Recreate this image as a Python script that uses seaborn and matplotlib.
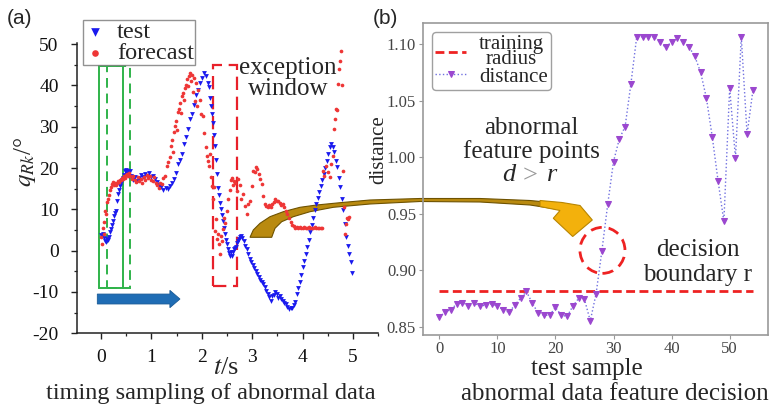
import matplotlib
matplotlib.use("Agg")
import matplotlib.pyplot as plt
import seaborn as sns
from matplotlib.patches import Polygon, Rectangle, Ellipse, FancyArrow
from matplotlib.ticker import MultipleLocator

# ---------------- (a) timing sampling: test vs forecast ----------------
t_test = [0.00, 0.02, 0.04, 0.06, 0.08, 0.10, 0.12, 0.14, 0.16, 0.18, 0.20, 0.22, 0.24, 0.26, 0.28,
          0.30, 0.32, 0.34, 0.36, 0.38, 0.40, 0.42, 0.44, 0.46, 0.48, 0.50, 0.52, 0.54, 0.56, 0.58,
          0.60, 0.64, 0.68, 0.72, 0.76, 0.80, 0.84, 0.88, 0.92, 0.96, 1.00, 1.04, 1.08, 1.12, 1.16,
          1.20, 1.24, 1.28, 1.32, 1.36, 1.40, 1.44, 1.48, 1.52, 1.56, 1.60, 1.64, 1.68, 1.72, 1.76,
          1.80, 1.84, 1.88, 1.92, 1.96, 2.00, 2.04, 2.08, 2.12, 2.14, 2.16, 2.18, 2.20, 2.22, 2.24,
          2.26, 2.28, 2.30, 2.32, 2.34, 2.36, 2.38, 2.40, 2.42, 2.44, 2.46, 2.48, 2.50, 2.52, 2.54,
          2.56, 2.58, 2.60, 2.62, 2.64, 2.66, 2.68, 2.70, 2.72, 2.74, 2.76, 2.78, 2.80, 2.83, 2.86,
          2.89, 2.92, 2.95, 2.98, 3.01, 3.04, 3.07, 3.10, 3.13, 3.16, 3.19, 3.22, 3.25, 3.28, 3.31,
          3.34, 3.37, 3.40, 3.43, 3.46, 3.49, 3.52, 3.55, 3.58, 3.61, 3.64, 3.67, 3.70, 3.73, 3.76,
          3.79, 3.82, 3.85, 3.88, 3.91, 3.94, 3.97, 4.00, 4.03, 4.06, 4.09, 4.12, 4.15, 4.18, 4.21,
          4.24, 4.27, 4.30, 4.33, 4.36, 4.39, 4.42, 4.45, 4.48, 4.51, 4.54, 4.57, 4.60, 4.63, 4.66,
          4.69, 4.72, 4.75, 4.78, 4.81, 4.84, 4.87, 4.90, 4.93, 4.96, 4.99]
q_test = [3.8, 3.5, 4.0, 3.0, 2.4, 2.2, 2.8, 2.5, 3.3, 4.5, 5.2, 6.1, 7.3, 8.3, 9.2,
          9.7, 12.0, 13.7, 14.8, 15.6, 16.3, 17.0, 17.6, 18.4, 19.2, 19.5, 18.8, 19.3, 18.2, 19.4,
          18.0, 17.2, 17.8, 16.9, 17.5, 18.3, 17.8, 18.6, 18.0, 18.7, 17.9, 18.2, 17.4, 16.6, 16.0,
          15.4, 14.6, 15.2, 14.9, 15.7, 16.4, 17.3, 18.8, 21.0, 22.0, 23.5, 25.8, 27.6, 29.5, 31.8,
          33.0, 35.2, 37.6, 38.9, 40.6, 41.8, 42.9, 42.2, 40.5, 39.6, 37.0, 35.0, 33.2, 30.8, 28.0,
          25.4, 22.0, 18.5, 15.2, 13.6, 11.5, 10.2, 8.7, 7.2, 5.6, 4.1, 2.6, 1.5, 0.4, -0.6,
          -1.2, -0.4, -1.4, -0.2, 0.3, 0.6, 0.9, 1.8, 2.4, 2.9, 3.3, 3.5, 3.0, 2.4, 1.2,
          0.3, -0.8, -1.9, -2.8, -3.4, -4.2, -5.0, -5.7, -6.4, -7.0, -7.6, -8.1, -8.8, -9.7, -10.5,
          -11.2, -12.3, -11.0, -10.8, -10.1, -10.5, -11.5, -10.9, -11.8, -12.2, -12.6, -13.0, -13.6, -14.1, -13.8,
          -13.9, -13.1, -12.4, -10.6, -9.0, -7.6, -5.8, -4.0, -2.6, -0.8, 1.0, 2.6, 4.6, 6.2, 8.0,
          9.8, 11.2, 12.8, 14.2, 15.6, 17.0, 18.6, 20.0, 21.8, 23.4, 25.0, 25.8, 25.2, 24.0, 21.8,
          20.2, 17.5, 15.4, 12.6, 9.8, 6.5, 3.4, 1.2, -0.9, -2.8, -5.4]

t_fore = [0.00, 0.02, 0.03, 0.05, 0.06, 0.08, 0.10, 0.11, 0.13, 0.15, 0.17, 0.19, 0.21, 0.23, 0.25,
          0.27, 0.29, 0.31, 0.33, 0.35, 0.37, 0.39, 0.41, 0.43, 0.45, 0.47, 0.49, 0.51, 0.53, 0.55,
          0.58, 0.61, 0.64, 0.67, 0.70, 0.73, 0.76, 0.79, 0.82, 0.85, 0.88, 0.91, 0.94, 0.97, 1.00,
          1.03, 1.06, 1.09, 1.12, 1.15, 1.18, 1.21, 1.24, 1.27, 1.30, 1.33, 1.36, 1.38, 1.40, 1.42,
          1.44, 1.46, 1.48, 1.50, 1.52, 1.54, 1.56, 1.58, 1.60, 1.62, 1.64, 1.66, 1.68, 1.70, 1.72,
          1.74, 1.76, 1.78, 1.80, 1.82, 1.84, 1.86, 1.88, 1.90, 1.93, 1.96, 1.99, 2.02, 2.05, 2.08,
          2.10, 2.12, 2.14, 2.16, 2.18, 2.20, 2.22, 2.24, 2.26, 2.28, 2.30, 2.32, 2.34, 2.36, 2.38,
          2.40, 2.42, 2.45, 2.47, 2.50, 2.52, 2.55, 2.57, 2.59, 2.61, 2.63, 2.66, 2.69, 2.72, 2.75,
          2.78, 2.82, 2.85, 2.89, 2.92, 2.96, 2.99, 3.02, 3.05, 3.08, 3.10, 3.13, 3.16, 3.19, 3.22,
          3.25, 3.28, 3.31, 3.34, 3.37, 3.40, 3.43, 3.46, 3.49, 3.52, 3.55, 3.58, 3.61, 3.64, 3.67,
          3.70, 3.73, 3.76, 3.79, 3.82, 3.85, 3.88, 3.91, 3.94, 3.97, 4.00, 4.03, 4.06, 4.09, 4.12,
          4.15, 4.18, 4.21, 4.24, 4.27, 4.30, 4.33, 4.36, 4.39, 4.40, 4.42, 4.46, 4.50, 4.54, 4.57,
          4.60, 4.62, 4.64, 4.66, 4.68, 4.70, 4.72, 4.74, 4.76, 4.78, 4.80, 4.82, 4.84, 4.86, 4.88,
          4.90, 4.92]
q_fore = [3.2, 1.5, 5.5, 6.9, 4.0, 9.5, 9.0, 11.8, 12.4, 13.5, 14.6, 15.4, 16.2, 16.7, 16.0,
          16.5, 15.8, 16.4, 16.9, 16.6, 17.2, 17.0, 17.6, 17.3, 18.0, 17.5, 18.3, 18.6, 18.1, 18.9,
          18.0, 17.4, 18.2, 17.0, 16.6, 17.8, 16.8, 17.4, 16.5, 17.9, 17.2, 18.4, 17.6, 18.0, 17.2,
          16.8, 17.9, 16.4, 15.9, 15.2, 16.4, 16.1, 17.6, 18.2, 20.6, 21.4, 22.8, 25.4, 26.8, 24.0,
          28.8, 30.3, 31.5, 29.2, 33.6, 34.3, 35.8, 33.4, 37.5, 38.2, 36.6, 39.4, 40.2, 41.6, 39.8,
          42.4, 43.0, 41.2, 42.6, 38.4, 41.8, 36.2, 40.6, 35.0, 38.8, 36.4, 33.2, 32.7, 28.6, 25.2,
          23.0, 21.6, 20.4, 23.4, 17.8, 15.7, 12.6, 15.3, 4.8, 7.6, 2.9, 4.0, 1.6, -0.8, 3.6,
          2.4, 5.2, 8.0, 6.8, 9.6, 12.4, 14.8, 17.2, 17.7, 15.9, 16.8, 16.5, 14.5, 17.4, 15.8,
          12.6, 13.7, 10.8, 8.9, 11.4, 12.1, 15.6, 19.4, 19.0, 20.2, 19.8, 18.6, 17.4, 16.1, 13.2,
          11.3, 10.8, 10.5, 11.0, 10.6, 11.3, 11.8, 12.4, 12.0, 12.1, 11.6, 11.0, 11.3, 10.6, 9.7,
          8.8, 7.8, 7.0, 6.2, 5.9, 5.6, 5.8, 5.5, 5.7, 5.6, 5.5, 5.7, 5.6, 5.5, 5.7,
          5.6, 5.5, 5.6, 5.7, 5.5, 5.6, 5.5, 5.6, 5.5, 19.4, 18.0, 20.6, 19.0, 17.8, 21.0,
          23.0, 29.5, 31.9, 34.3, 34.0, 40.3, 44.0, 46.0, 48.4, 40.0, 19.2, 10.5, 4.0, 6.5, 8.0,
          7.7, 8.2]

# ---------------- (b) feature decision: distance vs training radius ----------------
sample_idx = list(range(55))
distance = [0.858, 0.863, 0.865, 0.870, 0.871, 0.868, 0.871, 0.868, 0.869, 0.870,
            0.868, 0.865, 0.8625, 0.869, 0.875, 0.881, 0.871, 0.862, 0.860, 0.860,
            0.867, 0.860, 0.859, 0.868, 0.875, 0.874, 0.855, 0.879, 0.917, 0.958,
            0.996, 1.016, 1.027, 1.065, 1.1065, 1.1065, 1.1065, 1.1065, 1.1015, 1.097,
            1.102, 1.105, 1.102, 1.0975, 1.089, 1.075, 1.052, 1.018, 0.979, 0.943,
            1.061, 0.999, 1.1065, 1.020, 1.059]
training_radius = 0.881

left_xticks = [0, 1, 2, 3, 4, 5]
left_yticks = [-20, -10, 0, 10, 20, 30, 40, 50]
right_xticks = [0, 10, 20, 30, 40, 50]
right_yticks = [0.85, 0.90, 0.95, 1.00, 1.05, 1.10]

SERIF = 'Liberation Serif'
sns.set_style("ticks")
plt.rcParams['font.family'] = [SERIF, 'DejaVu Sans']
plt.rcParams['font.serif'] = [SERIF]
plt.rcParams['mathtext.fontset'] = 'stix'
plt.rcParams['axes.unicode_minus'] = False

W, H = 774, 408
fig = plt.figure(figsize=(W / 100, H / 100), dpi=100)
fig.patch.set_facecolor('white')


def fx(px):
    return px / W


def fy(py):
    return 1 - py / H


def P(px, py):
    return (fx(px), fy(py))


ax1 = fig.add_axes([fx(76.7), fy(333.3), (378.3 - 76.7) / W, (333.3 - 42.5) / H])
ax2 = fig.add_axes([fx(423), fy(335), 345 / W, 312 / H])
for a in (ax1, ax2):
    a.set_facecolor('none')

# ---- panel (a) ----
BLUE = '#1a1aee'
RED = '#ee3636'
sns.scatterplot(x=t_test, y=q_test, ax=ax1, marker='v', color=BLUE, s=12,
                linewidth=0, label='test', zorder=4)
sns.scatterplot(x=t_fore, y=q_fore, ax=ax1, marker='o', color=RED, s=7,
                linewidth=0, label='forecast', zorder=4)

ax1.set_xlim(-0.482, 5.502)
ax1.set_ylim(-20, 50.4)
ax1.set_xticks(left_xticks)
ax1.set_yticks(left_yticks)
ax1.set_xticklabels([str(v) for v in left_xticks])
ax1.set_yticklabels([str(v) for v in left_yticks])
ax1.xaxis.set_minor_locator(MultipleLocator(0.5))
ax1.yaxis.set_minor_locator(MultipleLocator(5))
for s in ('top', 'right'):
    ax1.spines[s].set_visible(False)
for s in ('left', 'bottom'):
    ax1.spines[s].set_color('#222222')
    ax1.spines[s].set_linewidth(1.1)
ax1.tick_params(which='major', direction='out', length=4, width=1, color='#222222',
                labelsize=14, labelcolor='#111111', labelfontfamily=SERIF)
ax1.tick_params(axis='x', which='major', pad=7)
ax1.tick_params(axis='y', which='major', pad=9)
ax1.tick_params(which='minor', direction='out', length=2.5, width=0.9, color='#222222')
ax1.set_xlabel('')
ax1.set_ylabel('')

GREEN = '#2fb34a'
ax1.add_patch(Rectangle((-0.04, -9.0), 0.47, 53.6, fill=False, edgecolor=GREEN, lw=1.4, zorder=2))
ax1.add_patch(Rectangle((0.11, -9.0), 0.465, 53.6, fill=False, edgecolor=GREEN, lw=1.4,
                        linestyle=(0, (5, 3)), zorder=2))
ax1.add_patch(Rectangle((2.23, -8.5), 0.46, 53.5, fill=False, edgecolor='#e8202a', lw=1.6,
                        linestyle=(0, (6, 3)), zorder=2))
ax1.add_patch(FancyArrow(-0.073, -11.7, 1.64, 0, width=2.4, head_width=4.2, head_length=0.2,
                         length_includes_head=True, facecolor='#1f6db5', edgecolor='#195a96',
                         lw=0.6, zorder=3))

leg1 = ax1.legend(loc='upper left', bbox_to_anchor=P(83, 20), bbox_transform=fig.transFigure,
                  fontsize=17.5, frameon=True, fancybox=False, edgecolor='#777777',
                  markerscale=1.8, handlelength=0.9, handletextpad=0.45, labelspacing=-0.05,
                  borderpad=0.05, borderaxespad=0)
leg1.get_frame().set_linewidth(1.0)

# ---- panel (b) ----
sns.lineplot(x=[sample_idx[0], sample_idx[-1]], y=[training_radius, training_radius], ax=ax2,
             color='#ee2222', lw=2.0, linestyle=(0, (3.2, 1.6)), label='training\nradius')
sns.lineplot(x=sample_idx, y=distance, ax=ax2, color='#7070e0', lw=1.0, linestyle=':',
             marker='v', markersize=5, markerfacecolor='#9b47cf', markeredgecolor='#9b47cf',
             label='distance')
ax2.set_xlim(-2.8, 56.6)
ax2.set_ylim(0.8425, 1.1186)
ax2.set_xticks(right_xticks)
ax2.set_yticks(right_yticks)
ax2.set_xticklabels([str(v) for v in right_xticks])
ax2.set_yticklabels([f'{v:.2f}' for v in right_yticks])
for s in ax2.spines.values():
    s.set_color('#999999')
    s.set_linewidth(1.2)
ax2.tick_params(direction='out', length=3, width=0.8, color='#999999', labelsize=12,
                labelcolor='#444444', pad=2, labelfontfamily=SERIF)
ax2.tick_params(axis='x', pad=1.5)
ax2.set_xlabel('')
ax2.set_ylabel('')
ax2.add_patch(Ellipse((28.1, 0.9174), 7.75, 0.0407, fill=False, edgecolor='#ee2222', lw=2,
                      linestyle=(0, (4, 2.5)), zorder=5))

leg2 = ax2.legend(loc='upper left', bbox_to_anchor=P(432, 32), bbox_transform=fig.transFigure,
                  fontsize=15, frameon=True, fancybox=True, edgecolor='#888888',
                  handlelength=1.5, handletextpad=0.6, labelspacing=-0.1,
                  borderpad=0.15, borderaxespad=0)
leg2.get_frame().set_linewidth(1.0)
for t in leg2.get_texts():
    t.set_multialignment('center')
    t.set_linespacing(0.72)

# ---- curved link arrow between the panels ----
band = [P(250, 237.3), P(253.3, 230), P(260, 223.3), P(270, 216.7), P(283.3, 211.7),
        P(300, 207.3), P(316.7, 205), P(340, 202.7), P(370, 200), P(420, 198.5),
        P(480, 198.5), P(530, 200.5), P(556, 203),
        P(556, 209), P(530, 205), P(480, 202), P(420, 201.5), P(370, 204),
        P(333.3, 207.3), P(310, 211.7), P(293.3, 216.7), P(281.7, 221.7), P(275, 228.3),
        P(271.7, 237.3)]
fig.add_artist(Polygon(band, closed=True, transform=fig.transFigure, facecolor='#b98a10',
                       edgecolor='#6e5200', lw=0.8, zorder=-1))
head = [P(540, 200.5), P(562, 202.5), P(580, 205.5), P(592.3, 220), P(572.7, 236.5),
        P(553.3, 218.3), P(560, 210.5), P(540, 206.5)]
fig.add_artist(Polygon(head, closed=True, transform=fig.transFigure, facecolor='#f3b10c',
                       edgecolor='#b88500', lw=0.8, zorder=-1))

# ---- texts ----
fig.text(*P(20, 18), '(a)', family='Liberation Sans', fontsize=15, ha='center', va='center')
fig.text(*P(385, 18), '(b)', family='Liberation Sans', fontsize=15, ha='center', va='center')
fig.text(*P(25, 162), r'$q_{Rk}$/°', fontsize=18, rotation=90, ha='center', va='center')
fig.text(*P(226, 368), r'$t$/s', fontsize=19, ha='center', va='center')
fig.text(*P(211, 393), 'timing sampling of abnormal data', fontsize=17.5, ha='center', va='center')
fig.text(*P(288, 68), 'exception', fontsize=18, ha='center', va='center')
fig.text(*P(288, 89), 'window', fontsize=18, ha='center', va='center')

fig.text(*P(379, 150), 'distance', fontsize=15, rotation=90, ha='center', va='center')
fig.text(*P(587, 369), 'test sample', fontsize=18, ha='center', va='center')
fig.text(*P(615, 394), 'abnormal data feature decision', fontsize=18, ha='center', va='center')
fig.text(*P(531.7, 128), 'abnormal', fontsize=18, ha='center', va='center')
fig.text(*P(531.7, 152), 'feature points', fontsize=18, ha='center', va='center')
fig.text(*P(509, 175), 'd', fontsize=19, style='italic', ha='center', va='center')
fig.text(*P(530, 176), '>', fontsize=19, color='#999999', ha='center', va='center')
fig.text(*P(552, 175), 'r', fontsize=19, style='italic', ha='center', va='center')
fig.text(*P(698, 250), 'decision', fontsize=18, ha='center', va='center')
fig.text(*P(698, 275), 'boundary r', fontsize=18, ha='center', va='center')

fig.savefig('out.png', dpi=100)
